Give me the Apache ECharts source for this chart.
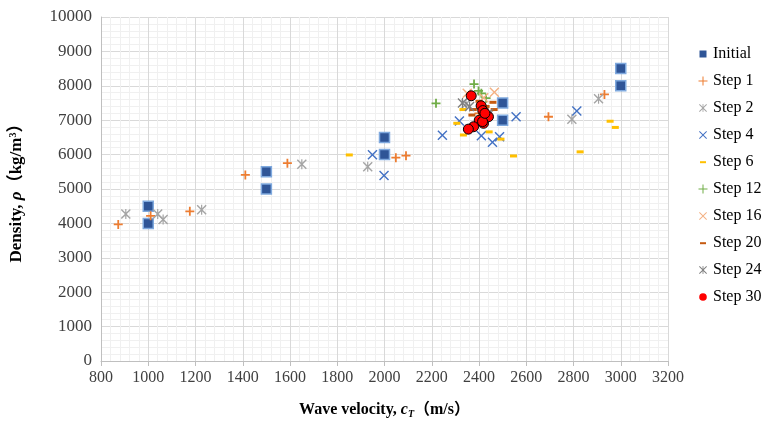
<!DOCTYPE html>
<html><head><meta charset="utf-8">
<script src="https://cdn.jsdelivr.net/npm/echarts@6/dist/echarts.min.js"></script>
<style>html,body{margin:0;padding:0;background:#fff}#c{width:769px;height:429px}</style>
</head><body><div id="c"></div>
<script>
const seriesNames = ['Initial','Step 1','Step 2','Step 4','Step 6','Step 12','Step 16','Step 20','Step 24','Step 30'];
const initialPts = [[1000,4500],[1000,4000],[1500,5500],[1500,5000],[2000,6500],[2000,6000],[2500,7500],[2500,7000],[3000,8500],[3000,8000]];
const step1Pts = [[873,3970],[1010,4220],[1176,4350],[1411,5410],[1589,5750],[2048,5910],[2091,5970],[2694,7100],[2931,7750],[2400,7200]];
const step2Pts = [[905,4270],[1040,4270],[1063,4110],[1226,4400],[1650,5720],[1929,5650],[2793,7030],[2906,7620],[2345,7470],[2440,7150]];
const step4Pts = [[1949,5995],[1998,5390],[2245,6560],[2317,6980],[2410,6550],[2457,6360],[2487,6520],[2557,7100],[2814,7270]];
const step6Pts = [[1851,5990],[2546,5960],[2828,6080],[2955,6970],[2977,6790],[2306,6910],[2334,6570],[2443,6660],[2493,6450],[2332,7310]];
const step12Pts = [[2218,7490],[2379,8050],[2398,7850],[2430,7640],[2410,7780]];
const step16Pts = [[2350,7780],[2465,7810],[2420,7650]];
const step20Pts = [[2459,7520],[2376,7310],[2464,7310],[2370,7150],[2430,7400],[2400,7550]];
const step24Pts = [[2330,7500],[2440,7200],[2360,7400]];
const step30Pts = [[2367,7710],[2409,7420],[2416,7280],[2440,7100],[2401,7000],[2419,6910],[2377,6810],[2355,6740],[2415,6960],[2425,7200]];

const PLUS = 'path://M4,0H6V4H10V6H6V10H4V6H0V4H4Z';
const XS = 'path://M0,1L1,0L5,4L9,0L10,1L6,5L10,9L9,10L5,6L1,10L0,9L4,5Z';
const STAR = 'path://M0,1L1,0L5,4L9,0L10,1L6,5L10,9L9,10L5,6L1,10L0,9L4,5Z M4.4,0H5.6V10H4.4Z';
const DASH_ICON = 'path://M0,0M2,4.2H8V6.2H2Z M10,10';
const SQ_ICON = 'path://M0,0M1.5,1.5H8.5V8.5H1.5Z M10,10';
const PLUS_ICON = 'path://M0,0M4.5,0.5H5.5V4.5H9.5V5.5H5.5V9.5H4.5V5.5H0.5V4.5H4.5Z M10,10';
const X_ICON = 'path://M0,0M1,1.7L1.7,1L5,4.3L8.3,1L9,1.7L5.7,5L9,8.3L8.3,9L5,5.7L1.7,9L1,8.3L4.3,5Z M10,10';
const STAR_ICON = 'path://M0,0M1,1.7L1.7,1L5,4.3L8.3,1L9,1.7L5.7,5L9,8.3L8.3,9L5,5.7L1.7,9L1,8.3L4.3,5Z M4.6,1H5.4V9H4.6Z M10,10';

const styles = [
  {symbol:'rect', size:10, color:'#2F5597', border:'#7FA9DE', bw:1.5, icon:SQ_ICON},
  {symbol:PLUS, size:9, color:'#ED7D31', icon:PLUS_ICON},
  {symbol:STAR, size:10, color:'#A5A5A5', icon:STAR_ICON},
  {symbol:XS, size:10, color:'#4472C4', icon:X_ICON},
  {symbol:'rect', size:[7,3], color:'#FFC000', icon:DASH_ICON},
  {symbol:PLUS, size:9, color:'#70AD47', icon:PLUS_ICON},
  {symbol:XS, size:10, color:'#F4B183', icon:X_ICON},
  {symbol:'rect', size:[7,3], color:'#C55A11', icon:DASH_ICON},
  {symbol:STAR, size:10, color:'#7F7F7F', icon:STAR_ICON},
  {symbol:'circle', size:10, color:'#FF0000', border:'#000000', bw:1, icon:'path://M0,0M1.2,5A3.8,3.8,0,1,1,8.8,5A3.8,3.8,0,1,1,1.2,5Z M10,10'}
];
const dataSets = [initialPts, step1Pts, step2Pts, step4Pts, step6Pts, step12Pts, step16Pts, step20Pts, step24Pts, step30Pts];

const series = seriesNames.map((n,i)=>({
  name:n, type:'scatter', data:dataSets[i], symbol:styles[i].symbol, symbolSize:styles[i].size,
  itemStyle:{color:styles[i].color, borderColor:styles[i].border||styles[i].color, borderWidth:styles[i].bw||0, opacity:1},
  emphasis:{disabled:true}
}));

const chart = echarts.init(document.getElementById('c'), null, {renderer:'canvas'});
const serif = 'Liberation Serif, Times New Roman, serif';
const paren = '"Liberation Serif", "Noto Sans CJK SC", serif';
chart.setOption({
  animation:false,
  backgroundColor:'#fff',
  grid:{left:101, right:101, top:17, bottom:68},
  xAxis:{type:'value', min:800, max:3200, interval:200,
    axisLine:{lineStyle:{color:'#BFBFBF'}}, axisTick:{show:true, length:5, lineStyle:{color:'#BFBFBF'}},
    axisLabel:{fontFamily:serif, fontSize:16, color:'#404040', margin:9, formatter:v=>String(v)},
    splitLine:{lineStyle:{color:'#D9D9D9'}},
    minorTick:{show:false, splitNumber:5}, minorSplitLine:{show:true, lineStyle:{color:'#F0F0F0'}},
    name:'{b|Wave velocity, }{i|c}{s|T}{b|（m/s）}', nameLocation:'middle', nameGap:40,
    nameTextStyle:{rich:{b:{fontFamily:paren, fontWeight:'bold', fontSize:16, color:'#000'}, i:{fontFamily:serif, fontWeight:'bold', fontStyle:'italic', fontSize:16, color:'#000'}, s:{fontFamily:serif, fontWeight:'bold', fontStyle:'italic', fontSize:10, color:'#000', padding:[8,0,0,0]}}}
  },
  yAxis:{type:'value', min:0, max:10000, interval:1000,
    axisLine:{show:true, lineStyle:{color:'#BFBFBF'}}, axisTick:{show:false},
    axisLabel:{fontFamily:serif, fontSize:17, color:'#404040', margin:9, formatter:v=>String(v)},
    splitLine:{lineStyle:{color:'#D9D9D9'}},
    minorTick:{show:false, splitNumber:5}, minorSplitLine:{show:true, lineStyle:{color:'#F0F0F0'}},
    name:'{b|Density, }{i|ρ}{b|（kg/m}{s|3}{b|）}', nameLocation:'middle', nameGap:75, nameRotate:90,
    nameTextStyle:{rich:{b:{fontFamily:paren, fontWeight:'bold', fontSize:17, color:'#000'}, i:{fontFamily:serif, fontWeight:'bold', fontStyle:'italic', fontSize:17, color:'#000'}, s:{fontFamily:serif, fontWeight:'bold', fontSize:10, color:'#000', padding:[0,0,8,0]}}}
  },
  legend:{orient:'vertical', left:693, top:41, itemGap:11, itemWidth:10, itemHeight:10,
    textStyle:{fontFamily:serif, fontSize:16, color:'#000'},
    data:seriesNames.map((n,i)=>({name:n, icon:styles[i].icon, itemStyle:{borderWidth:0, color:styles[i].color}}))},
  series:series
});
</script></body></html>
